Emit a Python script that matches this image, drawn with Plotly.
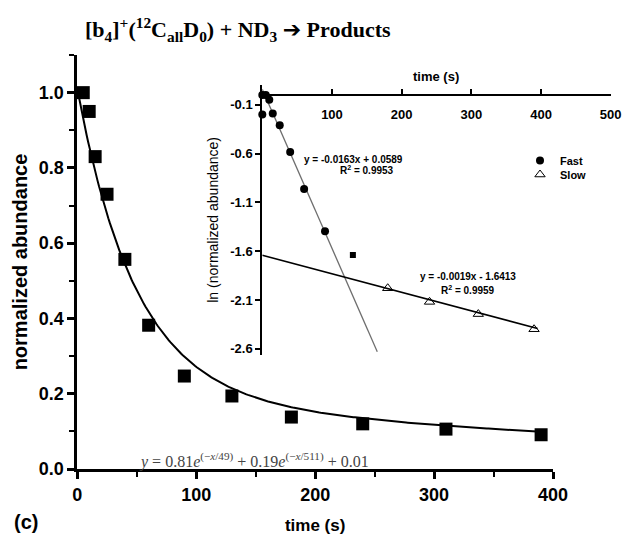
import numpy as np
import plotly.graph_objects as go

W, H = 625, 538

# ---- main panel data ----
time_s = [5, 10, 15, 25, 40, 60, 90, 130, 180, 240, 310, 390]
norm_abund = [1.0, 0.95, 0.83, 0.73, 0.557, 0.382, 0.247, 0.194, 0.138, 0.12, 0.106, 0.091]

# bi-exponential fit shown on the chart
fit_a1, fit_tau1, fit_a2, fit_tau2, fit_c = 0.81, 49, 0.19, 511, 0.01
fit_t_max = 390

# ---- inset data ----
fast_t = [0, 5, 0, 10, 15, 25, 40, 60, 90]
fast_ln = [0.0, 0.0, -0.2, -0.05, -0.19, -0.31, -0.584, -0.963, -1.397]
mid_t = [130]
mid_ln = [-1.64]
slow_t = [180, 240, 310, 390]
slow_ln = [-1.98, -2.12, -2.245, -2.40]

fast_slope, fast_int = -0.0163, 0.0589
slow_slope, slow_int = -0.0019, -1.6413
fast_line_t = [0, 165]
slow_line_t = [0, 395]

main_xticks = [0, 100, 200, 300, 400]
main_yticks = [0.0, 0.2, 0.4, 0.6, 0.8, 1.0]
inset_xticks = [100, 200, 300, 400, 500]
inset_yticks = [-0.1, -0.6, -1.1, -1.6, -2.1, -2.6]
inset_yticktext = ["-0.1", "-0.6", "-1.1", "-1.6", "-2.1", "-2.6"]

fit_t = np.linspace(0, fit_t_max, 300)
fit_y = fit_a1 * np.exp(-fit_t / fit_tau1) + fit_a2 * np.exp(-fit_t / fit_tau2) + fit_c

fast_line_y = [fast_slope * t + fast_int for t in fast_line_t]
slow_line_y = [slow_slope * t + slow_int for t in slow_line_t]

SANS = "Liberation Sans"
SERIF = "Liberation Serif"


def fx(px):
    return px / W


def fy(py):
    return 1 - py / H


fig = go.Figure()

# main panel
fig.add_trace(go.Scatter(x=fit_t, y=fit_y, mode="lines", line=dict(color="black", width=2),
                         showlegend=False, xaxis="x", yaxis="y", hoverinfo="skip"))
fig.add_trace(go.Scatter(x=time_s, y=norm_abund, mode="markers",
                         marker=dict(symbol="square", size=13, color="black"),
                         showlegend=False, xaxis="x", yaxis="y", cliponaxis=False))

# inset
fig.add_trace(go.Scatter(x=fast_line_t, y=fast_line_y, mode="lines", line=dict(color="#6e6e6e", width=1.3),
                         showlegend=False, xaxis="x2", yaxis="y2"))
fig.add_trace(go.Scatter(x=slow_line_t, y=slow_line_y, mode="lines", line=dict(color="black", width=1.6),
                         showlegend=False, xaxis="x2", yaxis="y2"))
fig.add_trace(go.Scatter(x=fast_t, y=fast_ln, mode="markers", name="Fast",
                         marker=dict(symbol="circle", size=8, color="black"),
                         xaxis="x2", yaxis="y2", cliponaxis=False, legend="legend"))
fig.add_trace(go.Scatter(x=slow_t, y=slow_ln, mode="markers", name="Slow",
                         marker=dict(symbol="triangle-up-open", size=9, color="black", line=dict(width=1)),
                         xaxis="x2", yaxis="y2", cliponaxis=False, legend="legend2"))
fig.add_trace(go.Scatter(x=mid_t, y=mid_ln, mode="markers",
                         marker=dict(symbol="square", size=6, color="black"),
                         showlegend=False, xaxis="x2", yaxis="y2"))

inset_yrange = [-2.66, 0.1]
inset_ydom = [fy(354.6), fy(85.2)]
zero_pos = inset_ydom[0] + (0 - inset_yrange[0]) / (inset_yrange[1] - inset_yrange[0]) * (inset_ydom[1] - inset_ydom[0])

bold = dict(family=SANS, color="black", weight="bold")
legend_style = dict(xanchor="left", yanchor="top", bgcolor="rgba(0,0,0,0)",
                    font=dict(size=11, **bold), itemwidth=30, tracegroupgap=0)

fig.update_layout(
    width=W, height=H, autosize=False,
    margin=dict(l=0, r=0, t=0, b=0),
    paper_bgcolor="white", plot_bgcolor="rgba(0,0,0,0)",
    xaxis=dict(domain=[fx(77.3), fx(553)], range=[0, 400], showgrid=False, zeroline=False,
               automargin=False,
               showline=True, linewidth=3, linecolor="black",
               ticks="outside", ticklen=7, tickwidth=2.5, tickcolor="black",
               tickvals=main_xticks, tickfont=dict(size=18, **bold),
               minor=dict(ticks="outside", ticklen=5, tickwidth=2, tickcolor="black", dtick=50, showgrid=False),
               title=dict(text="time (s)", font=dict(size=17, **bold), standoff=16),
               anchor="y"),
    yaxis=dict(domain=[fy(469), fy(55)], range=[0, 1.1], showgrid=False, zeroline=False,
               automargin=False,
               showline=True, linewidth=3, linecolor="black",
               ticks="outside", ticklen=7, tickwidth=2.5, tickcolor="black",
               tickvals=main_yticks, tickformat=".1f", tickfont=dict(size=18, **bold),
               minor=dict(ticks="outside", ticklen=5, tickwidth=2, tickcolor="black", dtick=0.1, showgrid=False),
               title=dict(text="normalized abundance", font=dict(size=20, **bold), standoff=6),
               anchor="x"),
    xaxis2=dict(domain=[fx(262.3), fx(610.7)], range=[0, 500], showgrid=False, zeroline=False,
                automargin=False,
                showline=True, linewidth=2, linecolor="black",
                anchor="free", position=zero_pos, side="bottom",
                ticks="inside", ticklen=5, tickwidth=2, tickcolor="black",
                ticklabelstandoff=7,
                tickvals=inset_xticks, tickfont=dict(size=13, **bold)),
    yaxis2=dict(domain=inset_ydom, range=inset_yrange, showgrid=False, zeroline=False,
                automargin=False,
                showline=True, linewidth=2, linecolor="black",
                ticks="outside", ticklen=5, tickwidth=2, tickcolor="black",
                tickvals=inset_yticks, ticktext=inset_yticktext, tickfont=dict(size=13, **bold),
                title=dict(text="ln (normalized abundance)", font=dict(size=14, family=SANS, color="black"), standoff=8),
                anchor="x2"),
    legend=dict(x=fx(520), y=fy(146), **legend_style),
    legend2=dict(x=fx(520), y=fy(160), **legend_style),
    showlegend=True,
)


def note(text, px, py, font, xanchor="center"):
    return dict(text=text, x=fx(px), y=fy(py), xref="paper", yref="paper", showarrow=False,
                xanchor=xanchor, yanchor="middle", font=font)


annotations = [
    note("[b<sub>4</sub>]<sup>+</sup>(<sup>12</sup>C<sub>all</sub>D<sub>0</sub>) + ND<sub>3</sub> "
         "<span style='font-family:DejaVu Sans'>\u2794</span> Products", 238, 30,
         dict(family=SERIF, size=22, color="black", weight="bold")),
    note("time (s)", 436, 77, dict(size=13, **bold)),
    note("(c)", 26, 522, dict(size=20, **bold)),
    note("<i>y</i> = 0.81<i>e</i><sup>(\u2212<i>x</i>/49)</sup> + 0.19<i>e</i><sup>(\u2212<i>x</i>/511)</sup> + 0.01",
         137, 460, dict(family=SERIF, size=16, color="#444444"), xanchor="left"),
    note("y = -0.0163x + 0.0589", 353, 159, dict(size=10, **bold)),
    note("R<sup>2</sup> = 0.9953", 367, 170, dict(size=10, **bold)),
    note("y = -0.0019x - 1.6413", 468, 276, dict(size=10, **bold)),
    note("R<sup>2</sup> = 0.9959", 468, 290, dict(size=10, **bold)),
]
fig.update_layout(annotations=annotations)

fig.write_html("out.html", default_width=f"{W}px", default_height=f"{H}px",
               config={"displayModeBar": False},
               post_script="document.body.style.margin='0';document.body.style.overflow='hidden';")
